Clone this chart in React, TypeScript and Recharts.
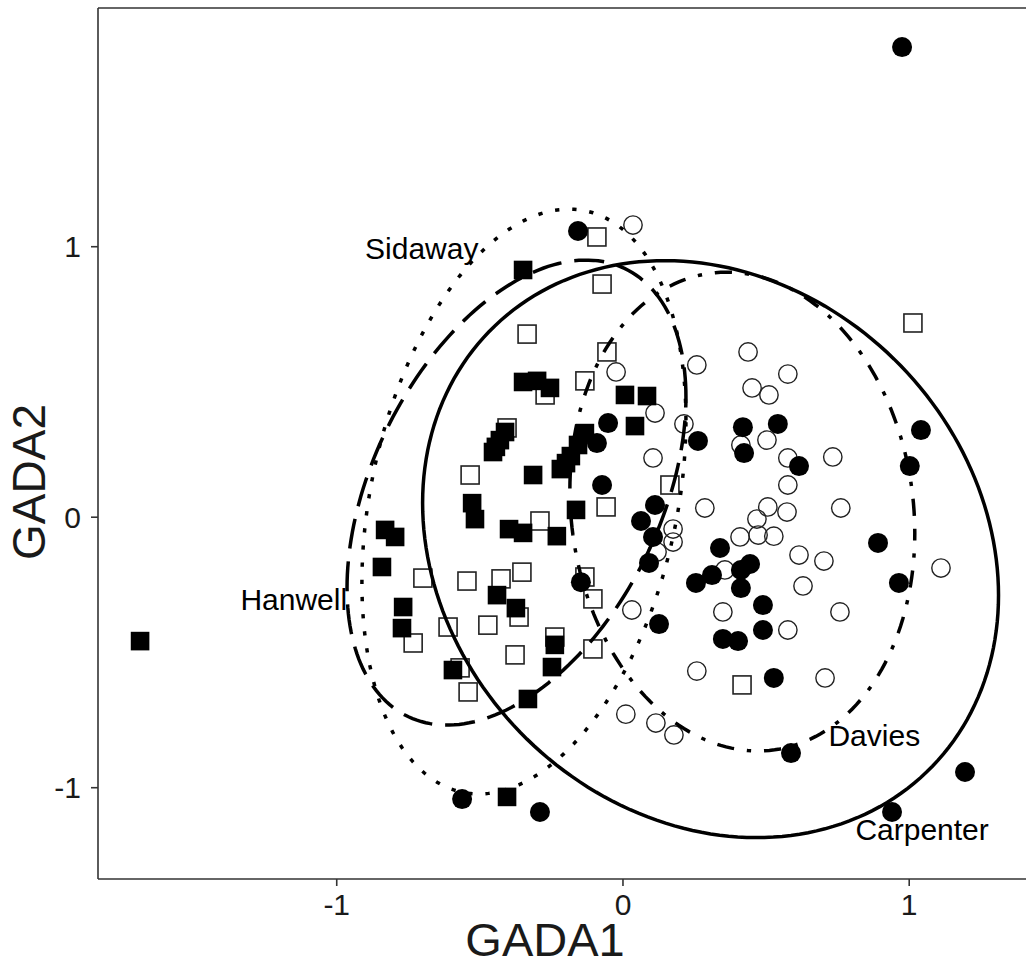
import React from 'react';
import { ScatterChart, Scatter, XAxis, YAxis, ReferenceLine } from 'recharts';

type P = [number, number];

// ---- data (GADA1, GADA2) ----
const filledSquares: P[] = [
  [-1.687, -0.458], [-0.831, -0.047], [-0.796, -0.073], [-0.842, -0.184], [-0.768, -0.332],
  [-0.772, -0.41], [-0.594, -0.565], [-0.527, 0.052], [-0.517, -0.007], [-0.44, -0.288],
  [-0.374, -0.336], [-0.398, -0.044], [-0.349, -0.058], [-0.231, -0.07], [-0.164, 0.027],
  [-0.314, 0.156], [-0.412, 0.315], [-0.43, 0.285], [-0.444, 0.26], [-0.454, 0.241],
  [-0.349, 0.5], [-0.3, 0.504], [-0.255, 0.478], [-0.133, 0.311], [-0.157, 0.267],
  [-0.182, 0.226], [-0.199, 0.2], [-0.217, 0.178], [0.007, 0.452], [0.084, 0.448],
  [0.042, 0.337], [-0.349, 0.914], [-0.405, -1.034], [-0.332, -0.672], [-0.248, -0.554],
  [-0.238, -0.472],
];

const openSquares: P[] = [
  [-0.091, 1.036], [-0.073, 0.862], [-0.335, 0.677], [-0.056, 0.611], [-0.133, 0.504],
  [-0.272, 0.452], [-0.405, 0.33], [-0.534, 0.156], [-0.059, 0.038], [-0.29, -0.014],
  [-0.699, -0.225], [-0.545, -0.236], [-0.426, -0.228], [-0.353, -0.203], [-0.733, -0.465],
  [-0.611, -0.406], [-0.472, -0.399], [-0.363, -0.369], [-0.377, -0.509], [-0.238, -0.443],
  [-0.569, -0.557], [-0.541, -0.646], [-0.133, -0.221], [-0.105, -0.302], [-0.105, -0.487],
  [0.164, 0.119], [1.013, 0.718], [0.416, -0.62],
];

const filledCircles: P[] = [
  [0.975, 1.738], [-0.157, 1.058], [-0.562, -1.042], [-0.29, -1.09], [0.587, -0.872],
  [1.195, -0.942], [0.94, -1.09], [-0.052, 0.348], [-0.091, 0.274], [0.262, 0.282],
  [0.419, 0.333], [0.541, 0.345], [0.423, 0.237], [0.615, 0.189], [1.041, 0.322],
  [1.002, 0.189], [-0.073, 0.119], [0.112, 0.045], [0.063, -0.014], [0.105, -0.073],
  [0.091, -0.169], [-0.147, -0.24], [0.339, -0.114], [0.311, -0.214], [0.255, -0.243],
  [0.444, -0.173], [0.412, -0.195], [0.412, -0.262], [0.891, -0.095], [0.964, -0.243],
  [0.126, -0.395], [0.489, -0.325], [0.489, -0.417], [0.349, -0.45], [0.402, -0.458],
  [0.527, -0.594],
];

const openCircles: P[] = [
  [0.035, 1.08], [-0.024, 0.537], [0.258, 0.563], [0.437, 0.611], [0.576, 0.529],
  [0.451, 0.478], [0.51, 0.452], [0.112, 0.385], [0.213, 0.345], [0.412, 0.267],
  [0.503, 0.285], [0.576, 0.219], [0.733, 0.223], [0.105, 0.219], [0.576, 0.119],
  [0.286, 0.034], [0.506, 0.038], [0.573, 0.019], [0.761, 0.034], [0.468, -0.007],
  [0.409, -0.073], [0.472, -0.066], [0.527, -0.07], [0.175, -0.044], [0.175, -0.092],
  [0.119, -0.129], [0.615, -0.14], [0.702, -0.162], [1.111, -0.188], [0.356, -0.195],
  [0.629, -0.254], [0.031, -0.343], [0.349, -0.35], [0.758, -0.35], [0.576, -0.417],
  [0.258, -0.569], [0.706, -0.594], [0.01, -0.728], [0.115, -0.761], [0.178, -0.805],
];

// group labels
const groupNames = ['Sidaway', 'Hanwell', 'Davies', 'Carpenter'];
const labelX = [-0.703, -1.15, 0.878, 1.045];
const labelY = [0.995, -0.302, -0.805, -1.152];

// ellipse shape: centre, half-extents, correlation
const ellCx = [-0.346, -0.372, 0.417, 0.306];
const ellCy = [0.058, 0.091, 0.021, -0.118];
const ellSx = [0.566, 0.592, 0.6025, 1.006];
const ellSy = [1.081, 0.8595, 0.885, 1.0665];
const ellR = [0.278, 0.41, -0.09, -0.16];
const ellDash = ['4.3 12.9', '30 13', '4.3 12.9 17.2 12.9', undefined];

const xTicks = [-1, 0, 1];
const yTicks = [-1, 0, 1];
const X_DOMAIN: [number, number] = [-1.834, 1.408];
const Y_DOMAIN: [number, number] = [-1.3375, 1.8825];

const FONT = '"Liberation Sans", Arial, sans-serif';
const STEPS = 200;

function ellipsePoints(i: number) {
  const r = ellR[i];
  const q = Math.sqrt(1 - r * r);
  const pts: { x: number; y: number }[] = [];
  for (let k = 0; k <= STEPS; k++) {
    const t = (2 * Math.PI * k) / STEPS;
    pts.push({
      x: ellCx[i] + ellSx[i] * Math.cos(t),
      y: ellCy[i] + ellSy[i] * (r * Math.cos(t) + q * Math.sin(t)),
    });
  }
  return pts;
}

const toPts = (a: P[]) => a.map(([x, y]) => ({ x, y }));
const labelData = groupNames.map((label, i) => ({ x: labelX[i], y: labelY[i], label }));

const FilledSquare = (p: any) => (
  <rect x={p.cx - 9.3} y={p.cy - 9.3} width={18.6} height={18.6} fill="#000" />
);
const OpenSquare = (p: any) => (
  <rect x={p.cx - 9} y={p.cy - 9} width={18} height={18} fill="none" stroke="#222" strokeWidth={1.6} />
);
const FilledCircle = (p: any) => <circle cx={p.cx} cy={p.cy} r={10} fill="#000" />;
const OpenCircle = (p: any) => (
  <circle cx={p.cx} cy={p.cy} r={9.2} fill="none" stroke="#222" strokeWidth={1.4} />
);
const NoMark = () => <g />;
const LabelMark = (p: any) => (
  <text x={p.cx} y={p.cy} dy={0.358 * 30} textAnchor="middle" fontSize={30} fontFamily={FONT} fill="#000">
    {p.payload.label}
  </text>
);

const tickStyle = { fontSize: 30, fontFamily: FONT, fill: '#1a1a1a' };

export default function App() {
  return (
    <div style={{ width: 1026, height: 965 }}>
      <style>{'body{margin:0;}'}</style>
      <ScatterChart width={1026} height={965} margin={{ top: 8, right: 0, bottom: 0, left: 0 }}>
        <XAxis
          type="number"
          dataKey="x"
          domain={X_DOMAIN}
          allowDataOverflow
          ticks={xTicks}
          tickSize={7}
          tickMargin={8}
          height={86}
          tick={tickStyle}
          axisLine={{ stroke: '#333', strokeWidth: 1.6 }}
          tickLine={{ stroke: '#333', strokeWidth: 1.6 }}
          label={{
            content: () => (
              <text x={545} y={956} textAnchor="middle" fontSize={47} fontFamily={FONT} fill="#1a1a1a">
                GADA1
              </text>
            ),
          }}
        />
        <YAxis
          type="number"
          dataKey="y"
          domain={Y_DOMAIN}
          allowDataOverflow
          ticks={yTicks}
          tickSize={7}
          tickMargin={10}
          width={98}
          tick={tickStyle}
          axisLine={{ stroke: '#333', strokeWidth: 1.6 }}
          tickLine={{ stroke: '#333', strokeWidth: 1.6 }}
          label={{
            content: () => (
              <text x={29} y={482} transform="rotate(-90 29 482)" textAnchor="middle" dominantBaseline="central" fontSize={46} fontFamily={FONT} fill="#1a1a1a">
                GADA2
              </text>
            ),
          }}
        />
        <ReferenceLine y={Y_DOMAIN[1]} stroke="#333" strokeWidth={1.6} />
        <Scatter data={toPts(openSquares)} shape={OpenSquare} isAnimationActive={false} />
        <Scatter data={toPts(openCircles)} shape={OpenCircle} isAnimationActive={false} />
        <Scatter data={toPts(filledSquares)} shape={FilledSquare} isAnimationActive={false} />
        <Scatter data={toPts(filledCircles)} shape={FilledCircle} isAnimationActive={false} />
        {groupNames.map((g, i) => (
          <Scatter
            key={g}
            data={ellipsePoints(i)}
            shape={NoMark}
            fill="#000"
            line={{ stroke: '#000', strokeWidth: 3.5, strokeDasharray: ellDash[i] }}
            isAnimationActive={false}
          />
        ))}
        <Scatter data={labelData} shape={LabelMark} isAnimationActive={false} />
      </ScatterChart>
    </div>
  );
}
